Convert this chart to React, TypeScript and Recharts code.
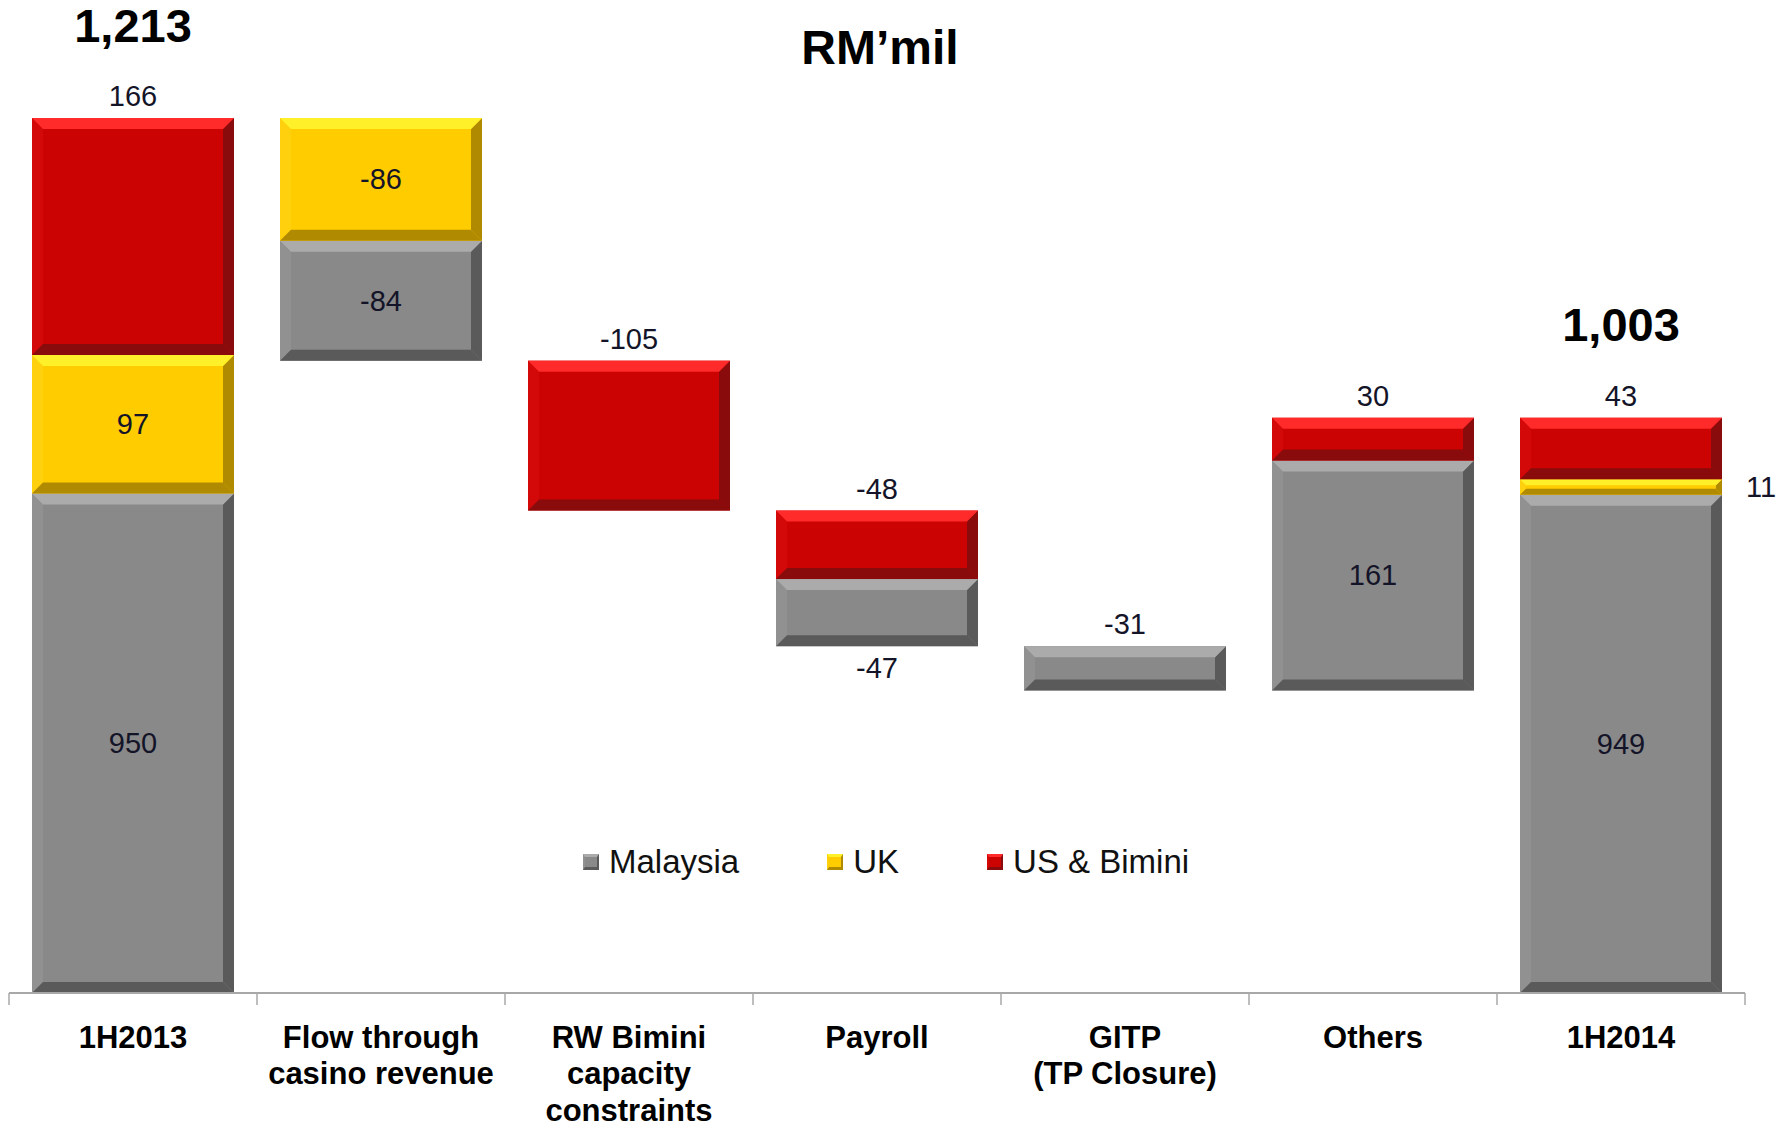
import { Bar, BarChart, LabelList, Legend, XAxis, YAxis } from 'recharts'

// chart values
const categories = [
  '1H2013',
  'Flow through\ncasino revenue',
  'RW Bimini\ncapacity\nconstraints',
  'Payroll',
  'GITP\n(TP Closure)',
  'Others',
  '1H2014',
]
const isTotal = [true, false, false, false, false, false, true]
const malaysia = [950, -84, 0, -47, -31, 161, 949]
const uk = [97, -86, 0, 0, 0, 0, 11]
const usBimini = [166, 0, -105, -48, 0, 30, 43]

const AXIS_MIN = 600 // value axis is cut at 600 in the original
const AXIS_MAX = 1213

const W = 1785
const H = 1128
const PLOT_LEFT = 9
const PLOT_RIGHT = 1745
const PLOT_TOP = 118
const PLOT_BOTTOM = 993
const BAND = (PLOT_RIGHT - PLOT_LEFT) / categories.length
const FONT = '"Liberation Sans", Arial, Helvetica, sans-serif'

type Key = 'm' | 'u' | 'r'
const palette: Record<Key, { base: string; light: string; dark: string; side: string; name: string }> = {
  m: { base: '#898989', light: '#ababab', dark: '#5a5a5a', side: '#919191', name: 'Malaysia' },
  u: { base: '#ffcc00', light: '#fff02a', dark: '#b08a00', side: '#ffd00d', name: 'UK' },
  r: { base: '#cc0303', light: '#ff2a2a', dark: '#8a0b0b', side: '#d30909', name: 'US & Bimini' },
}
const rawOf: Record<Key, number[]> = { m: malaysia, u: uk, r: usBimini }
const stackOrder: Key[] = ['m', 'u', 'r']

// waterfall: invisible base + stacked segments
let running = 0
const rows = categories.map((name, i) => {
  const sum = malaysia[i] + uk[i] + usBimini[i]
  let base: number
  if (isTotal[i]) {
    base = 0
    running = sum
  } else {
    base = sum < 0 ? running + sum : running
    running += sum
  }
  return {
    i,
    name,
    base,
    m: Math.abs(malaysia[i]),
    u: Math.abs(uk[i]),
    r: Math.abs(usBimini[i]),
    total: sum,
  }
})

function Bevel(props: any) {
  const { x, y, width: w, height: h, tone } = props
  if (!h || h <= 0 || !w) return null
  const c = palette[tone as Key]
  const b = Math.min(11, h / 2.6)
  const x2 = x + w
  const y2 = y + h
  return (
    <g>
      <rect x={x} y={y} width={w} height={h} fill={c.base} />
      <polygon points={`${x},${y} ${x + b},${y + b} ${x + b},${y2 - b} ${x},${y2}`} fill={c.side} />
      <polygon points={`${x2},${y} ${x2 - b},${y + b} ${x2 - b},${y2 - b} ${x2},${y2}`} fill={c.dark} />
      <polygon points={`${x},${y2} ${x2},${y2} ${x2 - b},${y2 - b} ${x + b},${y2 - b}`} fill={c.dark} />
      <polygon points={`${x},${y} ${x2},${y} ${x2 - b},${y + b} ${x + b},${y + b}`} fill={c.light} />
    </g>
  )
}

function segLabel(key: Key) {
  return (props: any) => {
    const idx = Number.isFinite(Number(props.value)) ? Number(props.value) : props.index
    const raw = rawOf[key][idx]
    if (!raw) return null
    const vb = props.viewBox ?? props
    const x = Number(vb.x)
    const y = Number(vb.y)
    const w = Number(vb.width)
    const bottom = Math.min(y + Number(vb.height), PLOT_BOTTOM)
    const h = bottom - y
    const present = stackOrder.filter((k) => rawOf[k][idx] !== 0)
    const isTop = present[present.length - 1] === key
    const isBottom = present[0] === key
    let tx = x + w / 2
    let ty: number
    let anchor: 'middle' | 'start' = 'middle'
    if (key !== 'r' && h >= 90) ty = y + h / 2
    else if (key === 'r' || isTop) ty = y - 22
    else if (isBottom) ty = bottom + 22
    else {
      tx = x + w + 24
      ty = y + h / 2
      anchor = 'start'
    }
    return (
      <g>
        <text
          x={tx}
          y={ty}
          textAnchor={anchor}
          dominantBaseline="central"
          fontFamily={FONT}
          fontSize={29}
          fill="#141428"
        >
          {raw}
        </text>
        {isTop && isTotal[idx] ? (
          <text
            x={x + w / 2}
            y={y - 93}
            textAnchor="middle"
            dominantBaseline="central"
            fontFamily={FONT}
            fontWeight="bold"
            fontSize={47}
            fill="#000"
          >
            {rows[idx].total.toLocaleString('en-US')}
          </text>
        ) : null}
      </g>
    )
  }
}

function CategoryTick(props: any) {
  const { x, payload } = props
  const i = typeof props.index === 'number' ? props.index : payload.index
  const lines = String(payload.value).split('\n')
  return (
    <g>
      <line x1={x - BAND / 2} x2={x - BAND / 2} y1={PLOT_BOTTOM} y2={PLOT_BOTTOM + 12} stroke="#a8a8a8" strokeWidth={1.5} />
      {i === categories.length - 1 ? (
        <line x1={x + BAND / 2} x2={x + BAND / 2} y1={PLOT_BOTTOM} y2={PLOT_BOTTOM + 12} stroke="#a8a8a8" strokeWidth={1.5} />
      ) : null}
      {lines.map((l, k) => (
        <text
          key={k}
          x={x}
          y={1037 + k * 36.5}
          textAnchor="middle"
          dominantBaseline="central"
          fontFamily={FONT}
          fontWeight="bold"
          fontSize={31}
          fill="#000"
        >
          {l}
        </text>
      ))}
    </g>
  )
}

function LegendContent() {
  return (
    <div style={{ display: 'flex', alignItems: 'center', gap: 88, fontFamily: FONT, fontSize: 33, color: '#111' }}>
      {stackOrder.map((k) => (
        <div key={k} style={{ display: 'flex', alignItems: 'center' }}>
          <span
            style={{
              width: 16,
              height: 16,
              boxSizing: 'border-box',
              background: palette[k].base,
              borderTop: `3px solid ${palette[k].light}`,
              borderLeft: `2px solid ${palette[k].side}`,
              borderRight: `2px solid ${palette[k].dark}`,
              borderBottom: `3px solid ${palette[k].dark}`,
              marginRight: 10,
            }}
          />
          <span style={{ lineHeight: '40px' }}>{palette[k].name}</span>
        </div>
      ))}
    </div>
  )
}

export default function App() {
  return (
    <div style={{ position: 'absolute', left: 0, top: 0, width: W, height: H, background: '#fff' }}>
      <div
        style={{
          position: 'absolute',
          left: 880,
          top: 22,
          transform: 'translateX(-50%)',
          fontFamily: FONT,
          fontWeight: 'bold',
          fontSize: 48,
          lineHeight: '52px',
          whiteSpace: 'nowrap',
        }}
      >
        RM’mil
      </div>
      <BarChart
        width={W}
        height={H}
        data={rows}
        margin={{ top: PLOT_TOP, right: W - PLOT_RIGHT, bottom: 0, left: PLOT_LEFT }}
        barSize={202}
      >
        <XAxis
          dataKey="name"
          interval={0}
          height={H - PLOT_BOTTOM}
          tickLine={false}
          axisLine={{ stroke: '#a8a8a8', strokeWidth: 2 }}
          tick={(p: any) => <CategoryTick {...p} />}
        />
        <YAxis hide domain={[AXIS_MIN, AXIS_MAX]} allowDataOverflow />
        <Legend
          layout="horizontal"
          verticalAlign="middle"
          align="center"
          content={() => <LegendContent />}
          wrapperStyle={{ left: 583, top: 842, width: 800 }}
        />
        <Bar dataKey="base" stackId="w" fill="transparent" isAnimationActive={false} legendType="none" />
        {stackOrder.map((k) => (
          <Bar
            key={k}
            dataKey={k}
            name={palette[k].name}
            stackId="w"
            fill={palette[k].base}
            isAnimationActive={false}
            shape={(p: any) => <Bevel {...p} tone={k} />}
          >
            <LabelList dataKey="i" content={segLabel(k)} />
          </Bar>
        ))}
      </BarChart>
    </div>
  )
}
